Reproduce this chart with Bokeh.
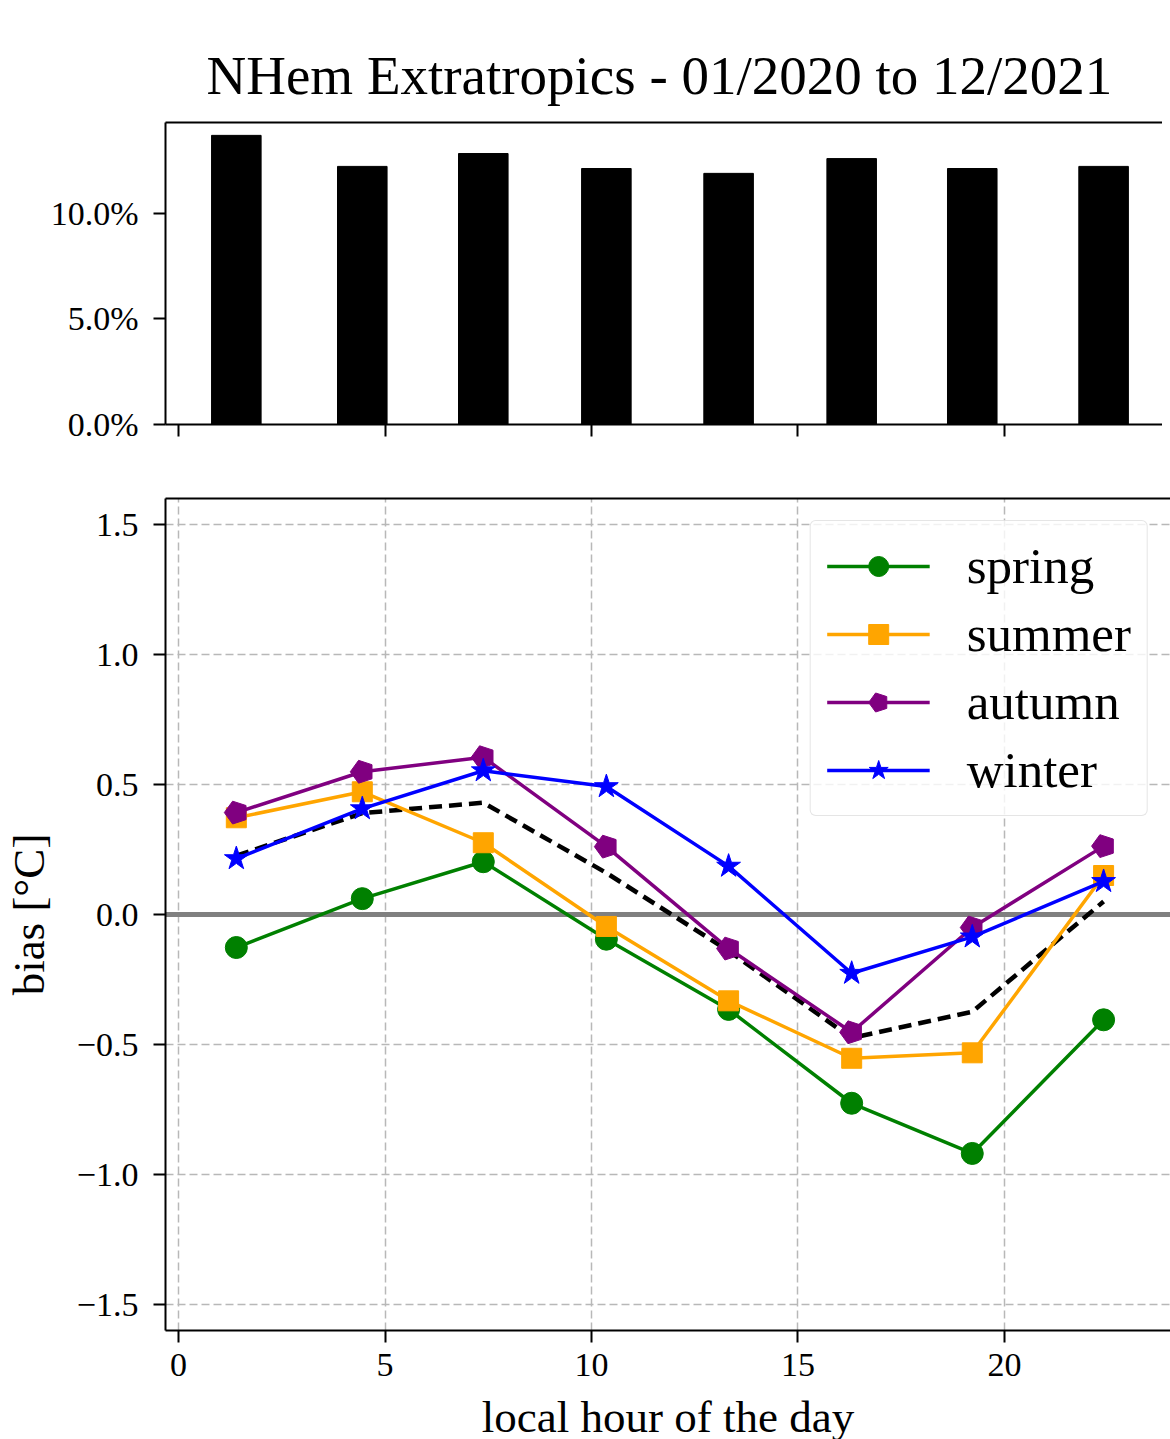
import math
from bokeh.plotting import figure
from bokeh.layouts import column
from bokeh.models import FixedTicker, LinearAxis, Range1d, Span, Legend, LegendItem
from bokeh.embed import file_html
from bokeh.resources import INLINE

# ---------------- data ----------------
hours = [1.40, 4.45, 7.38, 10.36, 13.32, 16.30, 19.22, 22.40]
share_pct = [13.70, 12.23, 12.84, 12.13, 11.90, 12.60, 12.13, 12.23]

spring = [-0.127, 0.061, 0.203, -0.095, -0.365, -0.726, -0.919, -0.405]
summer = [0.372, 0.472, 0.276, -0.046, -0.332, -0.553, -0.532, 0.150]
autumn = [0.392, 0.549, 0.605, 0.261, -0.131, -0.453, -0.050, 0.263]
winter = [0.215, 0.407, 0.553, 0.492, 0.186, -0.226, -0.086, 0.127]
all_mean = [0.226, 0.390, 0.430, 0.160, -0.140, -0.475, -0.374, 0.050]

season_names = ["spring", "summer", "autumn", "winter"]
season_values = [spring, summer, autumn, winter]

x_ticks = [0, 5, 10, 15, 20]
share_ticks = [0, 5, 10]
share_tick_labels = ["0.0%", "5.0%", "10.0%"]
bias_ticks = [-1.5, -1.0, -0.5, 0.0, 0.5, 1.0, 1.5]
bias_tick_labels = ["\u22121.5", "\u22121.0", "\u22120.5", "0.0", "0.5", "1.0", "1.5"]

title_text = "NHem Extratropics -  01/2020 to 12/2021"
x_label = "local hour of the day"
y_label = "bias [\u00b0C]"

# ---------------- style ----------------
FONT = "Liberation Serif"
TICK_SIZE = "34px"
season_colors = ["green", "orange", "purple", "blue"]
X_START, X_END = -0.315, 24.02


def style_axis(ax):
    ax.axis_line_color = "black"
    ax.axis_line_width = 2
    ax.major_tick_line_color = "black"
    ax.major_tick_line_width = 2
    ax.major_tick_out = 12
    ax.major_tick_in = 0
    ax.minor_tick_line_color = None
    ax.major_label_text_font = FONT
    ax.major_label_text_font_size = TICK_SIZE
    ax.major_label_text_color = "black"
    ax.axis_label_text_font = FONT
    ax.axis_label_text_font_style = "normal"
    ax.axis_label_text_color = "black"


def top_border(p):
    ax = LinearAxis(ticker=FixedTicker(ticks=[]))
    ax.axis_line_color = "black"
    ax.axis_line_width = 2
    ax.major_tick_line_color = None
    ax.minor_tick_line_color = None
    ax.major_label_text_font_size = "0px"
    ax.major_label_standoff = 0
    p.add_layout(ax, "above")


# ---------------- top panel: share of observations ----------------
p1 = figure(frame_width=1005, frame_height=302,
            x_range=Range1d(X_START, X_END), y_range=Range1d(0, 14.31),
            output_backend="svg", toolbar_location=None,
            min_border_left=157, min_border_right=0,
            min_border_top=122, min_border_bottom=30,
            title=title_text)
p1.outline_line_color = None
p1.background_fill_color = "white"
p1.border_fill_color = "white"
p1.xgrid.visible = False
p1.ygrid.visible = False
p1.vbar(x=hours, top=share_pct, width=1.2, fill_color="black", line_color="black")

p1.title.text_font = FONT
p1.title.text_font_size = "55px"
p1.title.text_font_style = "normal"
p1.title.text_color = "black"
p1.title.align = "left"
p1.title.offset = 41
p1.title.standoff = 34

style_axis(p1.xaxis[0])
p1.xaxis[0].ticker = FixedTicker(ticks=x_ticks)
p1.xaxis[0].major_label_overrides = {t: "" for t in x_ticks}
p1.xaxis[0].major_label_text_font_size = "1px"
style_axis(p1.yaxis[0])
p1.yaxis[0].ticker = FixedTicker(ticks=share_ticks)
p1.yaxis[0].major_label_overrides = dict(zip(share_ticks, share_tick_labels))
p1.yaxis[0].major_label_standoff = 15
top_border(p1)

# ---------------- bottom panel: bias by hour ----------------
p2 = figure(frame_width=1005, frame_height=832,
            x_range=Range1d(X_START, X_END), y_range=Range1d(-1.6, 1.6),
            output_backend="svg", toolbar_location=None,
            min_border_left=157, min_border_right=0,
            min_border_top=44, min_border_bottom=109)
p2.outline_line_color = None
p2.background_fill_color = "white"
p2.border_fill_color = "white"

for g, ticks in ((p2.xgrid[0], x_ticks), (p2.ygrid[0], bias_ticks)):
    g.ticker = FixedTicker(ticks=ticks)
    g.grid_line_color = "#b8b8b8"
    g.grid_line_width = 1.5
    g.grid_line_dash = "8 4"

zero = Span(location=0, dimension="width", line_color="#808080", line_width=5,
            level="underlay")
p2.add_layout(zero)

style_axis(p2.xaxis[0])
p2.xaxis[0].ticker = FixedTicker(ticks=x_ticks)
p2.xaxis[0].major_label_standoff = 11
p2.xaxis[0].axis_label = x_label
p2.xaxis[0].axis_label_text_font_size = "45px"
p2.xaxis[0].axis_label_standoff = 13
style_axis(p2.yaxis[0])
p2.yaxis[0].ticker = FixedTicker(ticks=bias_ticks)
p2.yaxis[0].major_label_overrides = dict(zip(bias_ticks, bias_tick_labels))
p2.yaxis[0].major_label_standoff = 15
p2.yaxis[0].axis_label = y_label
p2.yaxis[0].axis_label_text_font_size = "45px"
p2.yaxis[0].axis_label_standoff = 20
top_border(p2)

p2.line(hours, all_mean, line_color="black", line_width=4.5, line_dash="13 7")

items = []
for name, vals, col in zip(season_names, season_values, season_colors):
    ln = p2.line(hours, vals, line_color=col, line_width=3.5)
    if name == "spring":
        mk = p2.scatter(hours, vals, marker="circle", size=22, fill_color=col, line_color=col)
    elif name == "summer":
        mk = p2.scatter(hours, vals, marker="square", size=20, fill_color=col, line_color=col)
    elif name == "autumn":
        try:
            mk = p2.ngon(x=hours, y=vals, radius=12, radius_units="screen", n=5,
                         angle=math.pi / 2, fill_color=col, line_color=col)
        except Exception:
            mk = p2.scatter(hours, vals, marker="hex", size=22, angle=0.5236,
                            fill_color=col, line_color=col)
    else:
        mk = p2.scatter(hours, vals, marker="star", size=25, fill_color=col, line_color=col)
    items.append(LegendItem(label=name, renderers=[ln, mk]))

legend = Legend(items=items, location="top_right")
legend.margin = 22
legend.padding = 16
legend.spacing = 10
legend.glyph_width = 103
legend.glyph_height = 50
legend.label_standoff = 37
legend.label_text_font = FONT
legend.label_text_font_size = "51px"
legend.label_text_color = "black"
legend.border_line_color = "#cccccc"
legend.border_line_width = 1.5
legend.background_fill_color = "white"
legend.background_fill_alpha = 0.8
if hasattr(legend, "border_radius"):
    legend.border_radius = 6
p2.add_layout(legend)

layout = column(p1, p2, spacing=0)
open("out.html", "w").write(file_html(layout, INLINE))
